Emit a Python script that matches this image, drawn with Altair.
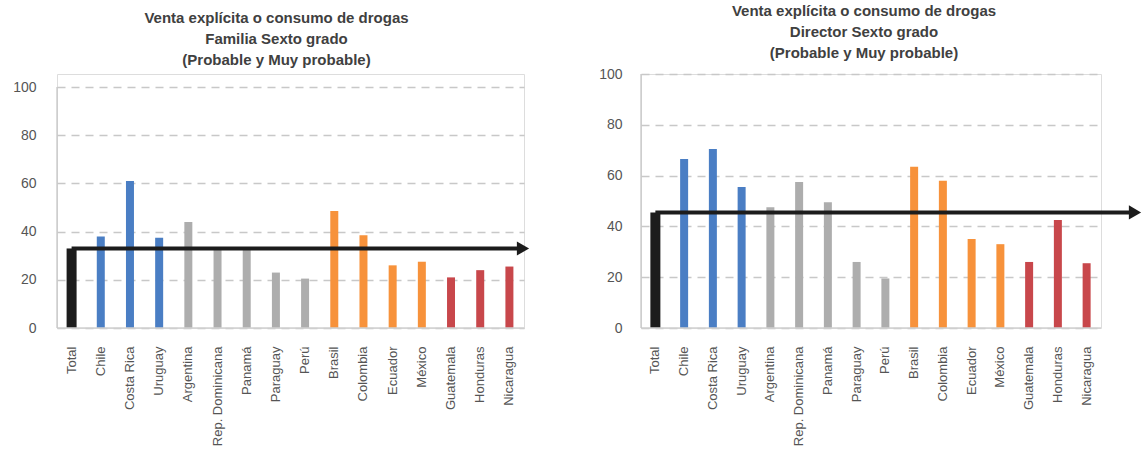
import altair as alt
import pandas as pd

# Países en el orden del eje X y su grupo de color
paises = ["Total", "Chile", "Costa Rica", "Uruguay", "Argentina", "Rep. Dominicana",
          "Panamá", "Paraguay", "Perú", "Brasil", "Colombia", "Ecuador", "México",
          "Guatemala", "Honduras", "Nicaragua"]
grupos = ["total", "g1", "g1", "g1", "g2", "g2", "g2", "g2", "g2",
          "g3", "g3", "g3", "g3", "g4", "g4", "g4"]

# Porcentaje "Probable y Muy probable"
familia = [33, 38, 61, 37.5, 44, 32.5, 32.5, 23, 20.5, 48.5, 38.5, 26, 27.5, 21, 24, 25.5]
director = [45.5, 66.5, 70.5, 55.5, 47.5, 57.5, 49.5, 26, 19.5, 63.5, 58, 35, 33, 26, 42.5, 25.5]

grupo_dom = ["total", "g1", "g2", "g3", "g4"]
grupo_col = ["#1c1c1c", "#4A7EC4", "#ADADAD", "#F7923B", "#C8474B"]
ticks_y = [0, 20, 40, 60, 80, 100]

FONT = "Liberation Sans"
LABEL = "#555555"
H = 254


def panel(valores, subtitulo, width, plot_h, label_pad, arrow_end, title_dx):
    df = pd.DataFrame({"pais": paises, "grupo": grupos, "valor": valores})
    y_max = 100 * H / plot_h

    x = alt.X("pais:N", sort=paises,
              scale=alt.Scale(domain=paises, paddingInner=0, paddingOuter=0),
              axis=alt.Axis(title=None, labelAngle=-90, labelFontSize=13, labelFont=FONT,
                            labelColor=LABEL, domain=False, ticks=False, tickSize=0,
                            labelPadding=18))
    y = alt.Y("valor:Q",
              scale=alt.Scale(domain=[0, y_max], nice=False, zero=True),
              axis=alt.Axis(title=None, values=ticks_y, grid=True, gridDash=[8, 6],
                            gridColor="#C8C8C8", gridWidth=1.3, domain=False, ticks=False,
                            tickSize=0, labelPadding=label_pad, labelFontSize=14,
                            labelFont=FONT, labelColor=LABEL))

    barras = alt.Chart(df).mark_bar().encode(
        x=x, y=y,
        color=alt.Color("grupo:N", scale=alt.Scale(domain=grupo_dom, range=grupo_col),
                        legend=None),
        size=alt.condition(alt.datum.pais == "Total", alt.value(10), alt.value(8)),
    )

    uno = pd.DataFrame({"k": [0]})
    eje_v = alt.Chart(uno).mark_rule(color="#C4C4C4", strokeWidth=1.2).encode(
        x=alt.value(0), y=alt.YDatum(0), y2=alt.Y2Datum(100))
    eje_h = alt.Chart(uno).mark_rule(color="#D0D0D0", strokeWidth=1.5).encode(
        x=alt.value(0), x2=alt.value(width), y=alt.YDatum(0))

    total = df[df["pais"] == "Total"]
    flecha = alt.Chart(total).mark_rule(color="#1c1c1c", strokeWidth=4).encode(
        x="pais:N", x2=alt.value(arrow_end - 6), y="valor:Q")
    punta = alt.Chart(total).mark_point(shape="triangle-right", filled=True, opacity=1,
                                        size=200, color="#1c1c1c").encode(
        x=alt.value(arrow_end), y="valor:Q")

    titulo = alt.TitleParams(
        text=["Venta explícita o consumo de drogas", subtitulo, "(Probable y Muy probable)"],
        fontSize=15, font=FONT, fontWeight="bold", color="#404040", lineHeight=21,
        anchor="middle", offset=6, dx=title_dx)

    return alt.layer(barras, eje_h, eje_v, flecha, punta).properties(
        width=width, height=H, title=titulo)


izq = panel(familia, "Familia Sexto grado", 467, 241, 21, 466, -14)
der = panel(director, "Director Sexto grado", 460, 254, 19, 494, -7)

chart = alt.hconcat(izq, der, spacing=68).properties(
    padding={"left": 12, "top": 3, "right": 0, "bottom": 0}
).configure_view(stroke=None).configure(background="white")

chart.save("out.html", embed_options={"renderer": "svg", "actions": False})
